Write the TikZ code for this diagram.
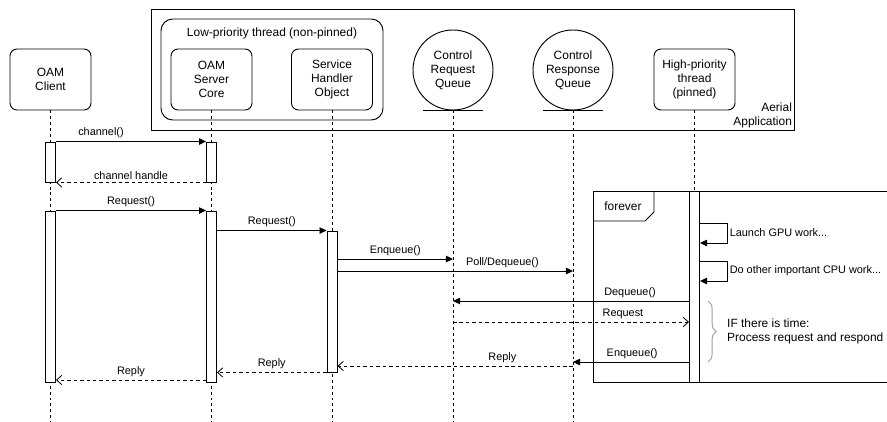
\documentclass[tikz,border=0pt]{standalone}
\usepackage{fontspec}
\setmainfont{Liberation Sans}
\usepackage{tikz}
\usetikzlibrary{arrows.meta, positioning, decorations.pathreplacing, calc}
\definecolor{bracegray}{HTML}{9E9E9E}
\newcommand{\mainfs}{\fontsize{10.2}{11.9}\selectfont}
\newcommand{\lblfs}{\fontsize{9.3}{11}\selectfont}
\tikzset{
  obj/.style={draw, rounded corners=6pt, align=center, minimum width=2.43cm, minimum height=1.83cm, font=\mainfs, line width=0.8pt},
  queue/.style={draw, circle, minimum size=2.4cm, align=center, font=\mainfs, line width=0.8pt, inner sep=0pt},
  actbar/.style={draw, fill=white, minimum width=0.3cm, inner sep=0pt, line width=0.8pt},
  lifeline/.style={dash pattern=on 2.5pt off 2.5pt, line width=0.7pt},
  sync/.style={-{Triangle[length=6pt,width=5.5pt]}, line width=0.8pt},
  reply/.style={-{Straight Barb[length=4.5pt,width=8pt]}, dash pattern=on 3pt off 2.5pt, line width=0.7pt},
  lbl/.style={font=\lblfs, inner sep=1pt},
}

\begin{document}
\begin{tikzpicture}[x=0.03cm, y=-0.03cm]
    \useasboundingbox (0,0) rectangle (887,422);
    % Containers
    \node[draw, line width=0.8pt, minimum width=19.29cm, minimum height=3.63cm, inner sep=0pt] (aerial) at (472.5,69.5) {};
    \node[font=\mainfs, align=right, anchor=south east, inner sep=2pt] (aerialtxt) at (aerial.south east) {Aerial\\Application};
    \node[draw, rounded corners=10pt, line width=0.8pt, minimum width=6.66cm, minimum height=3.03cm, inner sep=0pt] (lowprio) at (272,69.5) {};
    \node[font=\mainfs] (lowtxt) at (272,33) {Low-priority thread (non-pinned)};
    % Participants
    \node[obj] (client) at (50.5,79.5) {OAM\\Client};
    \node[obj] (core) at (211.5,79.5) {OAM\\Server\\Core};
    \node[obj] (handler) at (332,79.5) {Service\\Handler\\Object};
    \node[queue] (reqq) at (453,70) {Control\\Request\\Queue};
    \node[queue] (respq) at (573,70) {Control\\Response\\Queue};
    \node[obj] (hiprio) at (694.5,79.5) {High-priority\\thread\\(pinned)};
    \draw[line width=0.8pt] (reqq.south) ++(-30,0) -- ++(60,0);
    \draw[line width=0.8pt] (respq.south) ++(-30,0) -- ++(60,0);
    % Lifelines
    \coordinate (btm) at (0,422);
    \foreach \o in {client, core, handler, reqq, respq}
        \draw[lifeline] (\o.south) -- (\o.south |- btm);
    % Loop frame
    \draw[line width=0.8pt] (887,191) -| (593,382) -- (887,382);
    \draw[line width=0.8pt] (593,221) -- (645,221) -- (654,212) -- (654,191);
    \node[font=\mainfs] (fvtxt) at (623,206) {forever};
    % Activation bars
    \node[actbar, minimum height=1.2cm] (cb1) at (client |- 0,162) {};
    \node[actbar, minimum height=1.2cm] (sc1) at (core |- 0,162) {};
    \node[actbar, minimum height=5.13cm] (cb2) at (client |- 0,296.5) {};
    \node[actbar, minimum height=5.13cm] (sc2) at (core |- 0,296.5) {};
    \node[actbar, minimum height=4.23cm] (shb) at (handler |- 0,301.5) {};
    \node[actbar, minimum height=5.73cm] (hpb) at (hiprio |- 0,286.5) {};
    \draw[lifeline] (hiprio.south) -- (hpb.north);
    % Message levels
    \coordinate (yenq) at (0,259);
    \coordinate (ypoll) at (0,271);
    \coordinate (ydeq) at (0,301);
    \coordinate (yrq) at (0,322);
    \coordinate (yenq2) at (0,362);
    \coordinate (yrep1) at (0,366);
    \coordinate (yrep3) at (0,380);
    \coordinate (ygpu) at (0,223);
    \coordinate (ygpu2) at (0,243);
    \coordinate (ycpu) at (0,261);
    \coordinate (ycpu2) at (0,281);
    % Messages
    \draw[sync] (cb1.north east) -- (sc1.north west) node[lbl, above=1.5pt, pos=0.3] {channel()};
    \draw[reply] (sc1.south west) -- (cb1.south east) node[lbl, above=1.5pt, midway] {channel handle};
    \draw[sync] (cb2.north east) -- (sc2.north west) node[lbl, above=1.5pt, midway] {Request()};
    \draw[sync] (sc2.east |- shb.north) -- (shb.north west) node[lbl, above=1.5pt, midway] {Request()};
    \draw[sync] (shb.east |- yenq) -- (reqq.south |- yenq) node[lbl, above=1.5pt, midway] {Enqueue()};
    \draw[sync] (shb.east |- ypoll) -- (respq.south |- ypoll) node[lbl, above=1.5pt, pos=0.7] {Poll/Dequeue()};
    \draw[sync] (hpb.west |- ydeq) -- (reqq.south |- ydeq) node[lbl, above=1.5pt, pos=0.25] {Dequeue()};
    \draw[reply] (reqq.south |- yrq) -- (hpb.west |- yrq) node[lbl, above=1.5pt, pos=0.72] {Request};
    \draw[sync] (hpb.west |- yenq2) -- (respq.south |- yenq2) node[lbl, above=1.5pt, pos=0.49] {Enqueue()};
    \draw[reply] (respq.south |- yrep1) -- (shb.east |- yrep1) node[lbl, above=1.5pt, pos=0.3] {Reply};
    \draw[reply] (shb.south west) -- (sc2.east |- shb.south) node[lbl, above=1.5pt, midway] {Reply};
    \draw[reply] (sc2.west |- yrep3) -- (cb2.east |- yrep3) node[lbl, above=1.5pt, midway] {Reply};
    % Self calls
    \draw[sync] (hpb.east |- ygpu) -- ++(27,0) |- (hpb.east |- ygpu2) node[lbl, right=1pt, pos=0.25] {Launch GPU work...};
    \draw[sync] (hpb.east |- ycpu) -- ++(27,0) |- (hpb.east |- ycpu2) node[lbl, right=1pt, pos=0.25] {Do other important CPU work...};
    % Brace
    \draw[bracegray, line width=0.8pt, decorate, decoration={brace, amplitude=7pt}] (708,301) -- (708,362)
        node[midway, right=16pt, inner sep=0pt, align=left, font=\mainfs, text=black] (iftxt) {IF there is time:\\Process request and respond};
\end{tikzpicture}
\end{document}
